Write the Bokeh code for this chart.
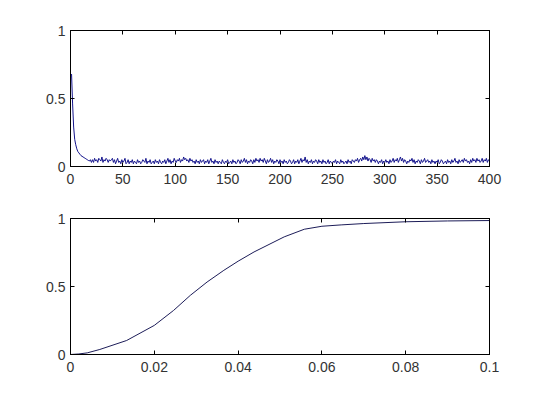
from bokeh.plotting import figure
from bokeh.layouts import column
from bokeh.models import Range1d, LinearAxis, FixedTicker, CustomJSTickFormatter
from bokeh.embed import file_html
from bokeh.resources import INLINE

# ---- data: top panel (signal vs sample index) ----
top_y = [
    0.68, 0.46, 0.29, 0.20, 0.16, 0.13, 0.11, 0.10, 0.09, 0.08, 0.075, 0.07, 0.065, 0.06, 0.055, 0.05, 0.045, 0.04, 0.05, 0.03,
    0.05, 0.03, 0.06, 0.04, 0.05, 0.03, 0.06, 0.05, 0.04, 0.07, 0.03, 0.05, 0.04, 0.06, 0.05, 0.03, 0.05, 0.04, 0.05, 0.06,
    0.03, 0.05, 0.02, 0.04, 0.06, 0.03, 0.04, 0.02, 0.05, 0.03, 0.04, 0.06, 0.02, 0.03, 0.05, 0.02, 0.04, 0.03, 0.05, 0.02,
    0.04, 0.03, 0.02, 0.05, 0.03, 0.04, 0.02, 0.03, 0.05, 0.04, 0.03, 0.06, 0.02, 0.04, 0.03, 0.05, 0.02, 0.03, 0.04, 0.02,
    0.05, 0.03, 0.04, 0.02, 0.05, 0.03, 0.02, 0.04, 0.03, 0.05, 0.02, 0.04, 0.06, 0.03, 0.05, 0.02, 0.04, 0.03, 0.06, 0.04,
    0.03, 0.05, 0.04, 0.06, 0.03, 0.05, 0.04, 0.07, 0.05, 0.06, 0.04, 0.05, 0.03, 0.06, 0.04, 0.05, 0.03, 0.04, 0.02, 0.05,
    0.03, 0.04, 0.02, 0.05, 0.03, 0.04, 0.05, 0.02, 0.04, 0.03, 0.05, 0.02, 0.04, 0.06, 0.03, 0.04, 0.02, 0.05, 0.03, 0.04,
    0.02, 0.04, 0.03, 0.02, 0.05, 0.03, 0.02, 0.04, 0.03, 0.05, 0.02, 0.03, 0.04, 0.02, 0.05, 0.03, 0.04, 0.02, 0.03, 0.05,
    0.04, 0.02, 0.05, 0.03, 0.04, 0.06, 0.03, 0.05, 0.02, 0.04, 0.03, 0.05, 0.04, 0.02, 0.05, 0.03, 0.06, 0.04, 0.05, 0.03,
    0.06, 0.04, 0.05, 0.03, 0.06, 0.04, 0.02, 0.05, 0.03, 0.04, 0.06, 0.03, 0.05, 0.02, 0.04, 0.03, 0.05, 0.04, 0.02, 0.05,
    0.03, 0.04, 0.02, 0.05, 0.03, 0.04, 0.02, 0.03, 0.05, 0.04, 0.02, 0.03, 0.05, 0.02, 0.04, 0.03, 0.05, 0.02, 0.04, 0.06,
    0.03, 0.05, 0.04, 0.07, 0.03, 0.05, 0.02, 0.04, 0.03, 0.05, 0.02, 0.04, 0.03, 0.05, 0.04, 0.02, 0.05, 0.03, 0.04, 0.02,
    0.05, 0.03, 0.04, 0.02, 0.03, 0.05, 0.02, 0.04, 0.03, 0.02, 0.04, 0.03, 0.05, 0.02, 0.04, 0.03, 0.02, 0.05, 0.03, 0.04,
    0.02, 0.03, 0.04, 0.02, 0.05, 0.03, 0.04, 0.02, 0.05, 0.04, 0.03, 0.05, 0.04, 0.06, 0.03, 0.05, 0.06, 0.04, 0.07, 0.05,
    0.08, 0.05, 0.07, 0.04, 0.06, 0.05, 0.03, 0.06, 0.04, 0.05, 0.03, 0.05, 0.04, 0.02, 0.04, 0.03, 0.05, 0.02, 0.04, 0.03,
    0.05, 0.03, 0.04, 0.02, 0.05, 0.03, 0.04, 0.06, 0.03, 0.05, 0.04, 0.06, 0.03, 0.05, 0.07, 0.04, 0.06, 0.03, 0.05, 0.04,
    0.02, 0.04, 0.03, 0.05, 0.04, 0.06, 0.03, 0.05, 0.02, 0.04, 0.03, 0.05, 0.04, 0.02, 0.05, 0.03, 0.04, 0.06, 0.03, 0.04,
    0.05, 0.03, 0.04, 0.02, 0.05, 0.03, 0.04, 0.02, 0.04, 0.03, 0.05, 0.02, 0.03, 0.05, 0.04, 0.02, 0.03, 0.04, 0.02, 0.05,
    0.03, 0.04, 0.02, 0.05, 0.03, 0.04, 0.06, 0.03, 0.04, 0.02, 0.05, 0.03, 0.04, 0.05, 0.03, 0.06, 0.04, 0.05, 0.03, 0.04,
    0.02, 0.05, 0.03, 0.06, 0.04, 0.05, 0.03, 0.06, 0.04, 0.05, 0.03, 0.04, 0.06, 0.03, 0.05, 0.04, 0.06, 0.03, 0.05, 0.04,
]
top_x = list(range(1, len(top_y) + 1))

top_xticks = [0, 50, 100, 150, 200, 250, 300, 350, 400]
top_yticks = [0, 0.5, 1]

# ---- data: bottom panel (cumulative curve) ----
bot_x = [0, 0.002, 0.004, 0.007, 0.0134, 0.02, 0.0246, 0.0286, 0.0326, 0.0366, 0.04,
         0.0438, 0.051, 0.0558, 0.06, 0.0646, 0.07, 0.08, 0.09, 0.1]
bot_y = [0, 0.004, 0.012, 0.037, 0.103, 0.214, 0.324, 0.435, 0.533, 0.619, 0.686,
         0.754, 0.865, 0.921, 0.943, 0.953, 0.963, 0.976, 0.982, 0.985]

bot_xticks = [0, 0.02, 0.04, 0.06, 0.08, 0.1]
bot_yticks = [0, 0.5, 1]

FONT = "Liberation Sans"
FSIZE = "14px"
TXT = "#333333"

fmt_code = "return String(Number(tick.toFixed(6)));"
blank_code = "return '';"


def style_axis(ax, ticks, labels=True, standoff=4):
    ax.ticker = FixedTicker(ticks=ticks)
    ax.formatter = CustomJSTickFormatter(code=fmt_code if labels else blank_code)
    ax.major_tick_in = 4
    ax.major_tick_out = 0
    ax.minor_tick_in = 0
    ax.minor_tick_out = 0
    ax.axis_line_color = "black"
    ax.major_tick_line_color = "black"
    ax.major_label_standoff = standoff if labels else 0
    ax.major_label_text_font = FONT
    ax.major_label_text_color = TXT
    ax.major_label_text_font_size = FSIZE


def make_fig(xr, yr, xticks, yticks, top_border, height):
    p = figure(width=532, height=height, output_backend="svg", toolbar_location=None,
               x_range=Range1d(*xr), y_range=Range1d(*yr),
               min_border_left=70, min_border_right=43,
               min_border_top=top_border, min_border_bottom=30)
    p.xgrid.visible = False
    p.ygrid.visible = False
    p.outline_line_color = "black"
    p.outline_line_alpha = 1
    p.background_fill_color = "white"
    p.border_fill_color = "white"
    style_axis(p.xaxis[0], xticks, standoff=7)
    style_axis(p.yaxis[0], yticks, standoff=5)
    ax_top = LinearAxis()
    style_axis(ax_top, xticks, labels=False)
    p.add_layout(ax_top, "above")
    ax_right = LinearAxis()
    style_axis(ax_right, yticks, labels=False)
    p.add_layout(ax_right, "right")
    return p


p1 = make_fig((0, 400), (0, 1), top_xticks, top_yticks, 30, 196)
p1.line(top_x, top_y, line_color="#14148c", line_width=1)

p2 = make_fig((0, 0.1), (0, 1), bot_xticks, bot_yticks, 22, 188)
p2.line(bot_x, bot_y, line_color="#1c1c58", line_width=1)

layout = column(p1, p2, spacing=0)

open("out.html", "w").write(file_html(layout, INLINE))
